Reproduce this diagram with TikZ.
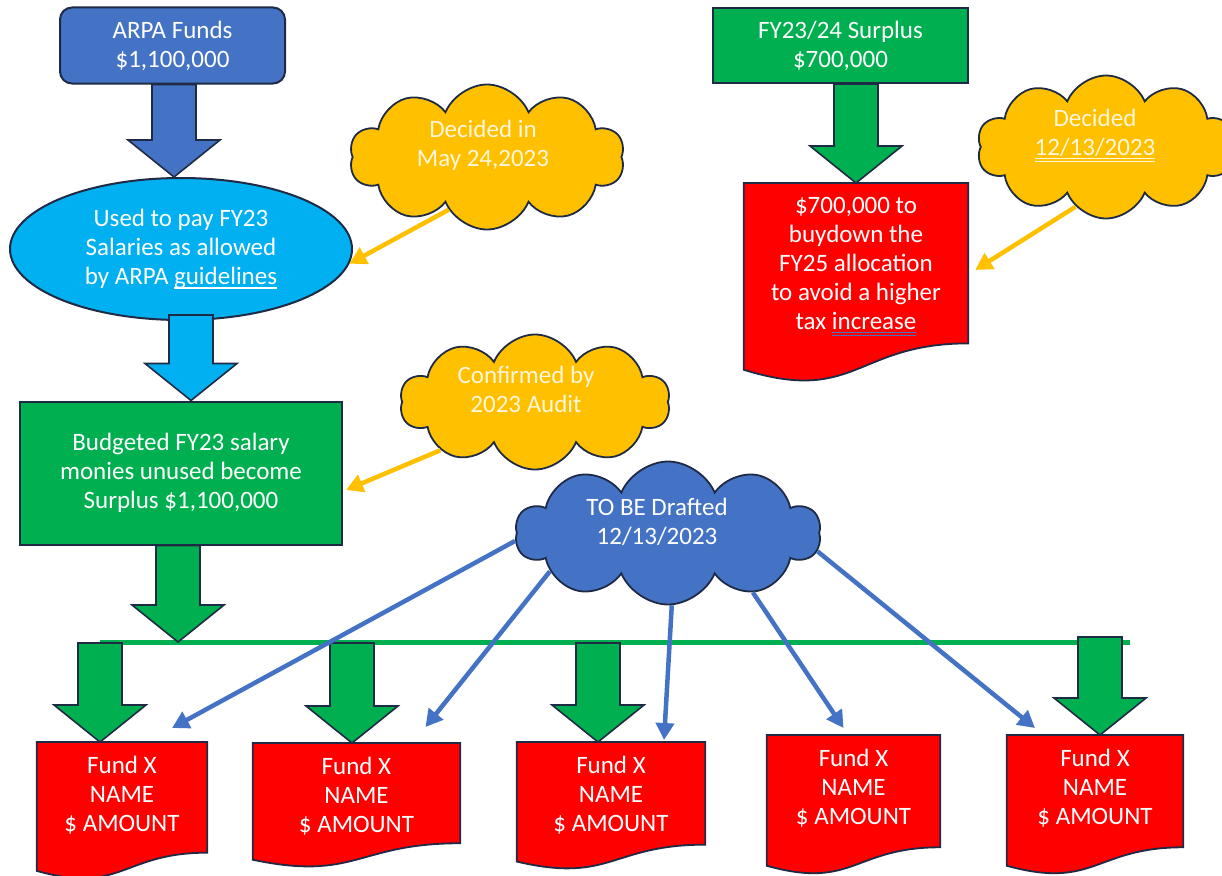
\documentclass[tikz,border=0pt]{standalone}
\usepackage{fontspec}
\setmainfont{Carlito}
\usepackage{xcolor}
\usetikzlibrary{shapes.symbols, shapes.geometric, arrows.meta, calc, backgrounds}

\definecolor{arpablue}{HTML}{4472C4}
\definecolor{skyblue}{HTML}{00B0F0}
\definecolor{surplusgreen}{HTML}{00B050}
\definecolor{fundred}{HTML}{FF0000}
\definecolor{noteyellow}{HTML}{FFC000}
\definecolor{edgedark}{HTML}{1F2A44}
\definecolor{notetext}{HTML}{FFF6DC}

\newsavebox{\markbox}
\newcommand{\singleline}[2]{\sbox{\markbox}{#2}\rlap{\textcolor{#1}{\rule[-4pt]{\wd\markbox}{1.3pt}}}\usebox{\markbox}}
\newcommand{\doubleline}[2]{\sbox{\markbox}{#2}\rlap{\textcolor{#1}{\rule[-3.5pt]{\wd\markbox}{1.2pt}}}\rlap{\textcolor{#1}{\rule[-6.5pt]{\wd\markbox}{1.2pt}}}\usebox{\markbox}}

\newcommand{\fatarrow}[3]{%
    \draw [fatline, fill=#1] let \p1 = (#2), \p2 = (#3) in
        ({\x2-22pt}, \y1) -- ({\x2+22pt}, \y1) -- ({\x2+22pt}, {\y2+37pt}) -- ({\x2+46pt}, {\y2+37pt})
        -- (\x2, \y2) -- ({\x2-46pt}, {\y2+37pt}) -- ({\x2-22pt}, {\y2+37pt}) -- cycle;
}

\newcommand{\docshape}[2]{%
    \draw [docline] (#1.north west) -- (#1.north east) -- ($(#1.north east)+(0,0.802*#2)$)
        .. controls ($(#1.north)+(0,0.802*#2)$) and ($(#1.north)+(0,1.1075*#2)$) .. ($(#1.north west)+(0,0.934*#2)$) -- cycle;
}

\begin{document}
\begin{tikzpicture}[x=1pt, y=-1pt, >={Triangle[length=17pt, width=18pt]},
    txt/.style={text=white, align=center, font=\fontsize{25}{29}\selectfont},
    arpabox/.style={txt, draw=edgedark, line width=2pt, fill=arpablue, rounded corners=12pt},
    ovalbox/.style={txt, ellipse, draw=edgedark, line width=2pt, fill=skyblue, inner sep=0pt},
    greenbox/.style={txt, draw=edgedark, line width=2pt, fill=surplusgreen},
    docbox/.style={txt, anchor=north, inner xsep=0pt, inner ysep=14pt},
    docline/.style={draw=edgedark, line width=1.8pt, fill=fundred},
    note/.style={cloud, cloud puffs=10, cloud puff arc=135, cloud ignores aspect, draw=edgedark, line width=1.8pt, fill=noteyellow, inner sep=0pt},
    notetxt/.style={txt, text=notetext},
    notearrow/.style={draw=noteyellow, line width=4.5pt, ->},
    fundarrow/.style={draw=arpablue, line width=4.5pt, ->},
    fatline/.style={draw=edgedark, line width=1.6pt}]

    \useasboundingbox (0, 0) rectangle (1222, 875);

    \node [arpabox, minimum width=225pt, minimum height=76pt] (arpa) at (172.5, 45.5) {ARPA Funds\\\$1,100,000};
    \node [ovalbox, minimum width=342pt, minimum height=142pt] (used) at (181, 249) {Used to pay FY23\\Salaries as allowed\\by ARPA \singleline{white}{guidelines}};
    \node [greenbox, minimum width=322pt, minimum height=143pt] (budget) at (181, 473) {Budgeted FY23 salary\\monies unused become\\Surplus \$1,100,000};
    \node [greenbox, minimum width=255pt, minimum height=75pt] (fysurplus) at (840.5, 45.5) {FY23/24 Surplus\\\$700,000};
    \node [docbox, minimum width=224pt] (buydown) at (856, 183) {\$700,000 to\\buydown the\\FY25 allocation\\to avoid a higher\\tax \doubleline{arpablue}{increase}};

    \node [note, minimum width=275pt, minimum height=145pt] (maynote) at (487, 157) {};
    \node [notetxt] (maytext) at ([shift={(-4pt,12pt)}]maynote.center) {Decided in\\May 24,2023};
    \node [note, minimum width=258pt, minimum height=143pt] (decnote) at (1106, 147) {};
    \node [notetxt] (dectext) at ([shift={(-11pt,11pt)}]decnote.center) {Decided\\\doubleline{notetext}{12/13/2023}};
    \node [note, minimum width=270pt, minimum height=135pt] (auditnote) at (535, 402) {};
    \node [notetxt] (audittext) at ([shift={(-9pt,13pt)}]auditnote.center) {Confirmed by\\2023 Audit};
    \node [note, fill=arpablue, minimum width=305pt, minimum height=143pt] (draftnote) at (668, 533) {};
    \node [txt] (drafttext) at ([shift={(-11pt,11pt)}]draftnote.center) {TO BE Drafted\\12/13/2023};

    \foreach \i/\x/\y/\w in {1/122/742/170, 2/356.5/743/207, 3/611/742/188, 4/853.5/735/173, 5/1095/735/176}
    {
        \node [docbox, minimum width=\w pt] (f\i) at (\x, \y) {Fund X\\NAME\\\$ AMOUNT};
    }

    \begin{scope}[on background layer]
        \docshape{buydown}{200}
        \foreach \i/\h in {1/138, 2/125, 3/128, 4/140, 5/140}
        {
            \docshape{f\i}{\h}
        }
    \end{scope}

    \coordinate (barL) at (100, 642);
    \coordinate (barR) at (1130, 642);
    \draw [surplusgreen, line width=5pt] (barL) -- (barR);

    \fatarrow{arpablue}{arpa.south}{[xshift=-7pt]used.north}
    \fatarrow{skyblue}{[yshift=6pt]used.south}{[xshift=10pt]budget.north}
    \fatarrow{surplusgreen}{budget.south}{[xshift=-3pt]barL -| budget.south}
    \fatarrow{surplusgreen}{fysurplus.south}{buydown.north}
    \foreach \i/\x/\y in {1/100/643, 2/352/643, 3/598/643, 5/1100/637}
    {
        \coordinate (fa\i) at (\x, \y);
        \fatarrow{surplusgreen}{fa\i}{fa\i |- f\i.north}
    }

    \draw [notearrow] (maynote.234) -- (used.-5);
    \draw [notearrow] (decnote.243) -- ([shift={(7,87)}]buydown.north east);
    \draw [notearrow] (auditnote.207) -- ([shift={(3,17)}]budget.east);

    \foreach \a/\i/\dx/\dy in {183/1/50/-14, 198/2/69/-16, -87/3/53/-2, -35/4/-10/-7, -7/5/-60/-7}
    {
        \draw [fundarrow] (draftnote.\a) -- ([shift={(\dx,\dy)}]f\i.north);
    }
\end{tikzpicture}
\end{document}
